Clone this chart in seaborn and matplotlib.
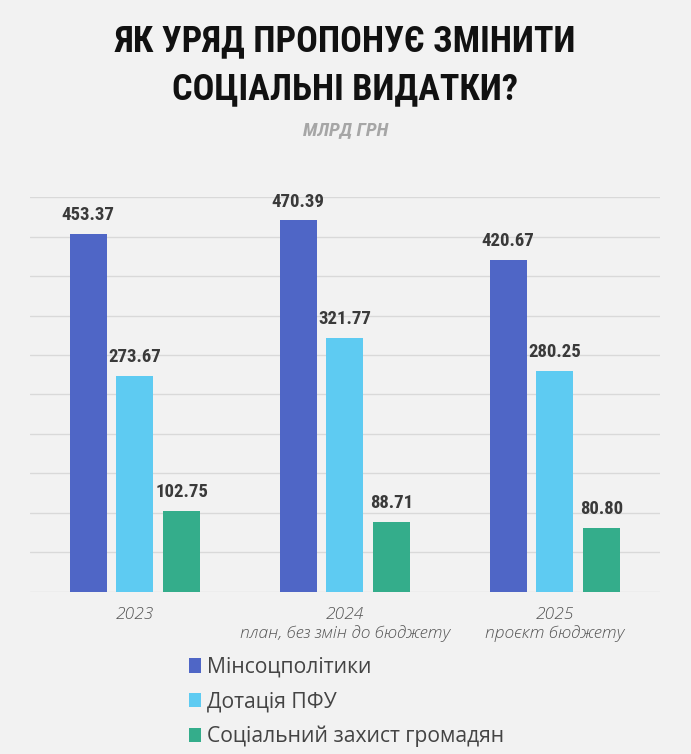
import matplotlib
matplotlib.use("Agg")
import matplotlib.pyplot as plt
from matplotlib import font_manager
from matplotlib.patches import Patch
import seaborn as sns
import pandas as pd

years = ["2023", "2024\nплан, без змін до бюджету", "2025\nпроєкт бюджету"]
series = ["Мінсоцполітики", "Дотація ПФУ", "Соціальний захист громадян"]
minsoc = [453.37, 470.39, 420.67]
pfu = [273.67, 321.77, 280.25]
social = [102.75, 88.71, 80.80]
colors = ["#4f66c6", "#5ecbf2", "#34ad8b"]

rows = []
for s, vals in zip(series, [minsoc, pfu, social]):
    for y, v in zip(years, vals):
        rows.append({"year": y, "series": s, "value": v})
df = pd.DataFrame(rows)

available = {f.name for f in font_manager.fontManager.ttflist}
cond = None
for cand in ["Liberation Sans Narrow", "Roboto Condensed", "DejaVu Sans Condensed", "Open Sans Condensed"]:
    if cand in available:
        cond = cand
        break
if cond is None:
    cond = "Roboto"

sns.set_theme(style="white")
plt.rcParams["font.family"] = ["Open Sans", "DejaVu Sans"]

BG = "#f2f2f2"
fig = plt.figure(figsize=(6.91, 7.54), dpi=100, facecolor=BG)
ax = fig.add_axes([0.0434, 0.2149, 0.9116, 0.5238])
ax.set_facecolor(BG)

sns.barplot(data=df, x="year", y="value", hue="series", palette=colors,
            width=0.67, gap=0.21, ax=ax, legend=False, saturation=1,
            linewidth=0, edgecolor="none")

ax.set_ylim(0, 500)
ax.set_xlim(-0.5, 2.5)
ax.set_yticks(range(0, 501, 50))
ax.yaxis.grid(True, color="#d9d9d9", linewidth=1)
ax.set_axisbelow(True)
ax.tick_params(axis="y", left=False, labelleft=False)
ax.tick_params(axis="x", bottom=False, pad=5)
for sp in ax.spines.values():
    sp.set_visible(False)
ax.set_xlabel("")
ax.set_ylabel("")
for lab in ax.get_xticklabels():
    lab.set_fontfamily(["Open Sans", "DejaVu Sans"])
    lab.set_fontstyle("italic")
    lab.set_fontweight("light")
    lab.set_fontsize(12.5)
    lab.set_color("#555555")
    lab.set_linespacing(1.15)

for cont in ax.containers:
    ax.bar_label(cont, fmt="%.2f", padding=7, fontsize=13.5, fontweight="bold",
                 color="#3a3a3a", fontfamily=cond)

fig.text(0.5, 0.945, "ЯК УРЯД ПРОПОНУЄ ЗМІНИТИ", ha="center", va="center",
         fontsize=26, fontweight="bold", fontfamily=cond, color="#111111")
fig.text(0.5, 0.881, "СОЦІАЛЬНІ ВИДАТКИ?", ha="center", va="center",
         fontsize=26, fontweight="bold", fontfamily=cond, color="#111111")
fig.text(0.5, 0.828, "МЛРД ГРН", ha="center", va="center",
         fontsize=14, fontweight="bold", fontstyle="italic", fontfamily=cond, color="#a6a6a6")

handles = [Patch(facecolor=c, edgecolor="none") for c in colors]
leg = fig.legend(handles, series, loc="upper left", bbox_to_anchor=(0.262, 0.14),
                 frameon=False, fontsize=15.2, handlelength=0.55, handleheight=0.7,
                 handletextpad=0.3, labelspacing=0.64, borderaxespad=0)
for t in leg.get_texts():
    t.set_color("#444444")

fig.savefig("out.png", dpi=100, facecolor=BG)
